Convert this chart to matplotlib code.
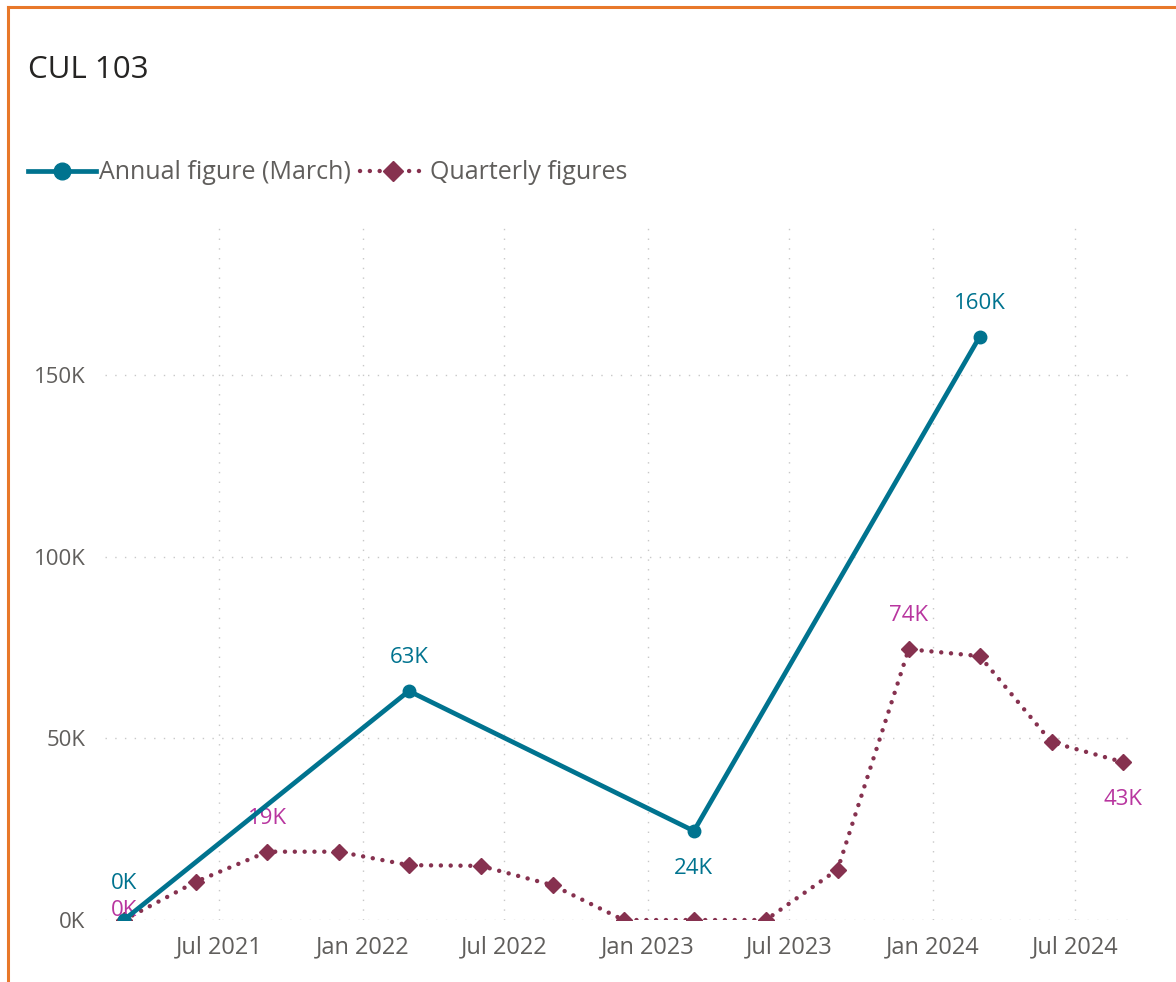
"""
CUL 103: annual vs quarterly figures.
"""

import matplotlib

matplotlib.use("Agg")
import matplotlib.dates as mdates
import matplotlib.pyplot as plt
import pandas as pd
from matplotlib.lines import Line2D
from matplotlib.ticker import FuncFormatter

# data
annual_dates = ["2021-03-01", "2022-03-01", "2023-03-01", "2024-03-01"]
annual_values = [0, 63000, 24500, 160500]

quarterly_dates = [
    "2021-03-01", "2021-06-01", "2021-09-01", "2021-12-01",
    "2022-03-01", "2022-06-01", "2022-09-01", "2022-12-01",
    "2023-03-01", "2023-06-01", "2023-09-01", "2023-12-01",
    "2024-03-01", "2024-06-01", "2024-09-01",
]
quarterly_values = [
    0, 10500, 18800, 18800,
    15100, 14900, 9600, 0,
    0, 0, 13900, 74500,
    72600, 48900, 43400,
]

x_ticks = ["2021-07-01", "2022-01-01", "2022-07-01", "2023-01-01",
           "2023-07-01", "2024-01-01", "2024-07-01"]
y_ticks = [0, 50000, 100000, 150000]

ANNUAL = "#00738F"
QUARTER = "#86314F"
QUARTER_LABEL = "#B8359F"
TEXT = "#605E5C"
ORANGE = "#E8782A"
DOTS = (0, (0.01, 2.2))

plt.rcParams["font.family"] = ["Open Sans", "DejaVu Sans"]

annual = pd.DataFrame({"date": pd.to_datetime(annual_dates), "value": annual_values})
quarterly = pd.DataFrame({"date": pd.to_datetime(quarterly_dates), "value": quarterly_values})

fig = plt.figure(figsize=(11.76, 9.82), dpi=100)
ax = fig.add_axes([0.0893, 0.0631, 0.876, 0.713])

ax.plot(quarterly["date"], quarterly["value"], color=QUARTER, lw=3.2,
        linestyle=DOTS, dash_capstyle="round",
        marker="D", markersize=8.5, zorder=3)
ax.plot(annual["date"], annual["value"], color=ANNUAL, lw=3.4,
        marker="o", markersize=9, zorder=4)


def k_label(v):
    return f"{round(v / 1000):.0f}K"


# annual labels: above except the 24K one
for i, (d, v) in enumerate(zip(annual["date"], annual["value"])):
    off = -27 if i == 2 else (26 if i == 0 else 24)
    ax.annotate(k_label(v), (d, v), xytext=(0, off), textcoords="offset points",
                ha="center", va="center", color=ANNUAL, fontsize=16)

# quarterly labels on a few points
for i, off in [(0, 7), (2, 24), (11, 24), (14, -27)]:
    d, v = quarterly["date"][i], quarterly["value"][i]
    ax.annotate(k_label(v), (d, v), xytext=(0, off), textcoords="offset points",
                ha="center", va="center", color=QUARTER_LABEL, fontsize=16)

ax.set_xlim(pd.Timestamp("2021-02-05"), pd.Timestamp("2024-09-16"))
ax.set_ylim(0, 192600)
ax.set_xticks(pd.to_datetime(x_ticks))
ax.xaxis.set_major_formatter(mdates.DateFormatter("%b %Y"))
ax.set_yticks(y_ticks)
ax.yaxis.set_major_formatter(FuncFormatter(lambda v, p: f"{v / 1000:.0f}K"))

ax.grid(True, color="#C8C8C8", linestyle=(0, (1, 6)), linewidth=1.0)
ax.set_axisbelow(True)
for s in ax.spines.values():
    s.set_visible(False)
ax.tick_params(length=0, labelcolor=TEXT)
ax.tick_params(axis="x", pad=11, labelsize=17)
ax.tick_params(axis="y", pad=14, labelsize=16)

fig.text(0.024, 0.929, "CUL 103", fontsize=22.5, color="#252423", va="center")

handles = [
    Line2D([], [], color=ANNUAL, lw=3.4, marker="o", markersize=12),
    Line2D([], [], color=QUARTER, lw=3.2, linestyle=DOTS,
           dash_capstyle="round", marker="D", markersize=10),
]
fig.legend(handles, ["Annual figure (March)", "Quarterly figures"],
           loc="center left", bbox_to_anchor=(0.024, 0.824), ncol=2,
           frameon=False, fontsize=18, labelcolor=TEXT, borderaxespad=0,
           borderpad=0, handlelength=2.7, handletextpad=0.12,
           columnspacing=0.36)

# orange frame edges (top and left)
fig.add_artist(Line2D([0.0068, 0.0068], [0, 0.993], color=ORANGE, lw=2.2,
                      transform=fig.transFigure))
fig.add_artist(Line2D([0.0068, 1], [0.993, 0.993], color=ORANGE, lw=2.2,
                      transform=fig.transFigure))

fig.savefig("out.png", dpi=100)
plt.close(fig)
